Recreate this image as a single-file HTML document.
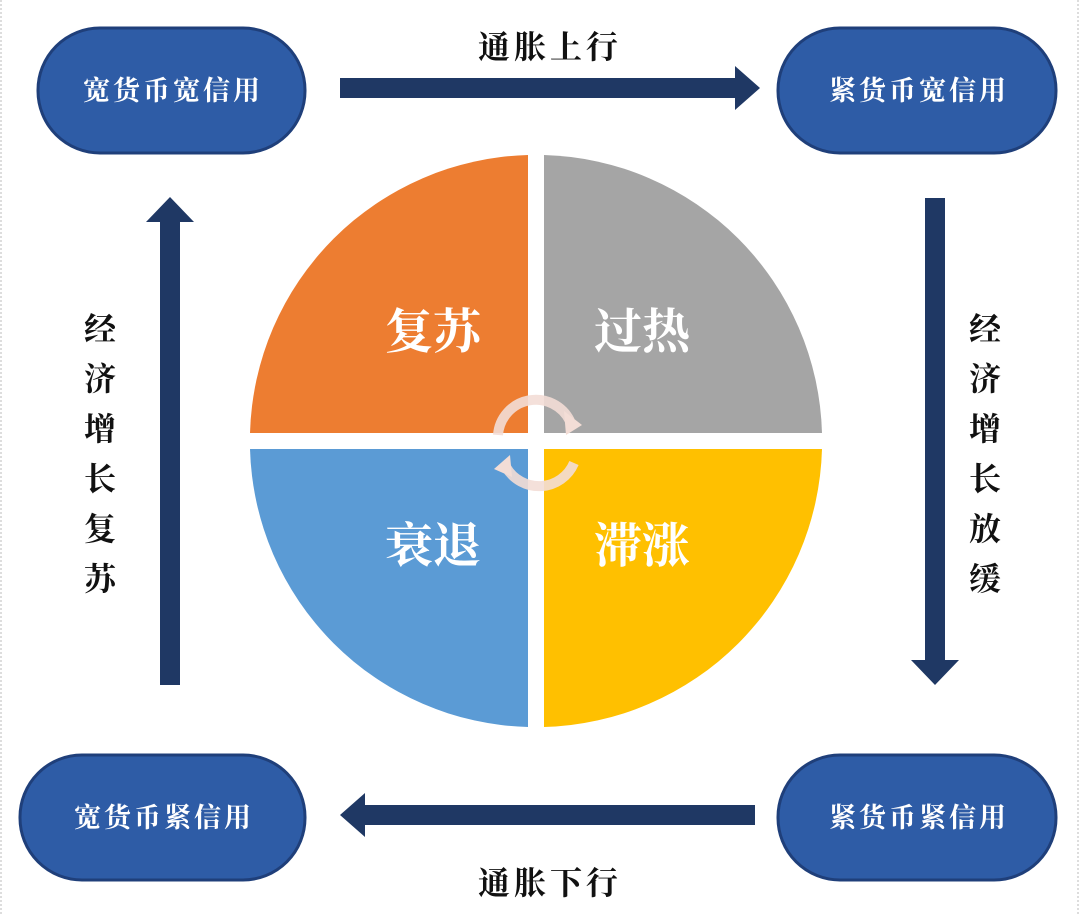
<!DOCTYPE html>
<html><head><meta charset="utf-8"><style>
body{margin:0;background:#fff;}
svg{display:block}
</style></head><body>
<svg width="1080" height="914" viewBox="0 0 1080 914" xmlns="http://www.w3.org/2000/svg">
<line x1="1" y1="0" x2="1" y2="914" stroke="#bbb" stroke-dasharray="2,2"/>
<line x1="1078" y1="0" x2="1078" y2="914" stroke="#bbb" stroke-dasharray="2,2"/>
<g fill="#2e5ca6" stroke="#1f3f7a" stroke-width="3">
<rect x="38" y="28" width="267" height="125" rx="62"/>
<rect x="778" y="28" width="278" height="125" rx="62"/>
<rect x="20" y="755" width="285" height="125" rx="62"/>
<rect x="778" y="755" width="278" height="125" rx="62"/>
</g>
<g font-family="'Liberation Serif','Noto Serif CJK SC',serif" font-weight="bold" fill="#fff" font-size="27" text-anchor="middle" letter-spacing="3">
<text x="173" y="100">宽货币宽信用</text>
<text x="919" y="100">紧货币宽信用</text>
<text x="164" y="827">宽货币紧信用</text>
<text x="919" y="827">紧货币紧信用</text>
</g>
<g fill="#1f3864">
<polygon points="340,78 735,78 735,66 760,88 735,110 735,98 340,98"/>
<polygon points="755,805 365,805 365,793 340,815 365,837 365,825 755,825"/>
<polygon points="160,685 160,222 146,222 170,197 194,222 180,222 180,685"/>
<polygon points="925,198 925,660 911,660 935,685 959,660 945,660 945,198"/>
</g>
<g font-family="'Liberation Serif','Noto Serif CJK SC',serif" font-weight="bold" fill="#111" font-size="32" text-anchor="middle">
<text x="550" y="58" letter-spacing="4">通胀上行</text>
<text x="550" y="894" letter-spacing="4">通胀下行</text>
<text x="100" y="340">经</text><text x="100" y="390">济</text><text x="100" y="440">增</text><text x="100" y="490">长</text><text x="100" y="540">复</text><text x="100" y="590">苏</text>
<text x="985" y="340">经</text><text x="985" y="390">济</text><text x="985" y="440">增</text><text x="985" y="490">长</text><text x="985" y="540">放</text><text x="985" y="590">缓</text>
</g>
<g transform="translate(536,441)">
<path d="M-8,-8 L-8,-286 A286,286 0 0 0 -286,-8 Z" fill="#ed7d31"/>
<path d="M8,-8 L8,-286 A286,286 0 0 1 286,-8 Z" fill="#a5a5a5"/>
<path d="M-8,8 L-8,286 A286,286 0 0 1 -286,8 Z" fill="#5b9bd5"/>
<path d="M8,8 L8,286 A286,286 0 0 0 286,8 Z" fill="#ffc000"/>
<g fill="none" stroke="#f3ddd6" stroke-width="10" opacity="0.9">
<path d="M-38,-6 A38,38 0 0 1 34,-20"/>
<path d="M38,22 A38,38 0 0 1 -30,26"/>
</g>
<polygon points="28,-30 46,-16 30,-6" fill="#f3ddd6"/>
<polygon points="-26,14 -42,28 -24,36" fill="#f3ddd6"/>
</g>
<g font-family="'Liberation Serif','Noto Serif CJK SC',serif" font-weight="bold" fill="#fff" font-size="48" text-anchor="middle">
<text x="433" y="348">复苏</text>
<text x="642" y="348">过热</text>
<text x="433" y="562">衰退</text>
<text x="642" y="562">滞涨</text>
</g>
</svg>
</body></html>
